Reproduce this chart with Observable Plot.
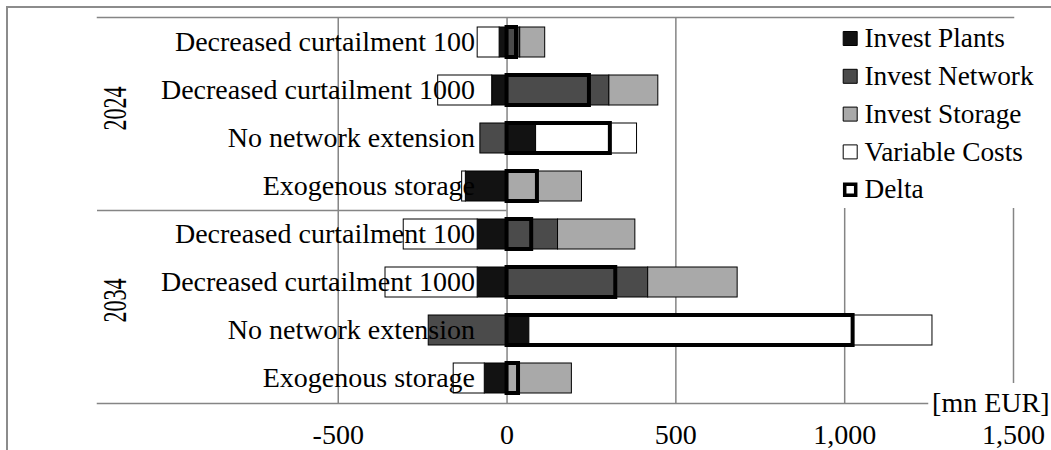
<!DOCTYPE html>
<html><head><meta charset="utf-8">
<script src="https://cdn.jsdelivr.net/npm/d3@7"></script>
<script src="https://cdn.jsdelivr.net/npm/@observablehq/plot@0.6"></script>
<style>
body{margin:0;background:#fff;}
#wrap{position:relative;width:1051px;height:450px;overflow:hidden;background:#fff;}
#chart{position:absolute;left:0;top:0;}
#border{position:absolute;left:6px;top:6px;width:1200px;height:600px;border-left:2px solid #8c8c8c;border-top:2px solid #8c8c8c;pointer-events:none;}
</style></head><body>
<div id="wrap"><div id="chart"></div><div id="border"></div></div>
<script>
// ---- data ----
const years = ["2024", "2034"];
const scenarios = ["Decreased curtailment 100", "Decreased curtailment 1000", "No network extension", "Exogenous storage"];
const seriesNames = ["Invest Plants", "Invest Network", "Invest Storage", "Variable Costs"];
// one value per row: 2024 x 4 scenarios, then 2034 x 4 scenarios  [mn EUR]
const investPlants  = [-22, -44,   86, -122,  -87,  -87,   66,  -66];
const investNetwork = [ 39, 303,  -79,    0,  151,  418, -232,    0];
const investStorage = [ 74, 145,    0,  222,  229,  265,    0,  192];
const variableCosts = [-65, -160, 299,  -11, -219, -273, 1194,  -92];
const delta         = [ 28, 244,  306,   90,   73,  322, 1025,   34];
const axisTicks = [-500, 0, 500, 1000, 1500];
const unitLabel = "[mn EUR]";
const deltaLabel = "Delta";

// ---- styling ----
const seriesColors = ["#121212", "#4b4b4b", "#a9a9a9", "#ffffff"];
const gridColor = "#858585";
const xMin = -1213, xMax = 1500;

const rows = [];
years.forEach((yr, gi) => scenarios.forEach((sc, si) => rows.push({key: yr + "|" + sc, year: yr, scenario: sc, idx: gi * scenarios.length + si})));
const seriesValues = [investPlants, investNetwork, investStorage, variableCosts];
const long = [];
seriesNames.forEach((s, k) => rows.forEach((r, i) => {
  if (seriesValues[k][i] !== 0) long.push({key: r.key, series: s, value: seriesValues[k][i]});
}));
const yearLabels = years.map(yr => ({year: yr, key: yr + "|" + scenarios[1]}));

const legendItems = seriesNames.map((s, i) => ({name: s, fill: seriesColors[i], sw: 1, r: 7.9}))
  .concat([{name: deltaLabel, fill: "#ffffff", sw: 3.5, r: 6.2}]);
const legendMarks = [];
legendItems.forEach((it, i) => {
  const dy = 21 + i * 37.8;
  legendMarks.push(Plot.dot([it], {frameAnchor: "top-left", dx: 752.7, dy, symbol: "square", r: it.r, fill: it.fill, stroke: "#000", strokeWidth: it.sw}));
  legendMarks.push(Plot.text([it], {frameAnchor: "top-left", dx: 767, dy, text: "name", textAnchor: "start", lineAnchor: "middle", fill: "#000", fontSize: 27.3}));
});

const chart = Plot.plot({
  width: 1051, height: 450,
  marginLeft: 97, marginRight: 38, marginTop: 17, marginBottom: 47,
  x: {domain: [xMin, xMax], axis: null},
  y: {domain: rows.map(d => d.key), paddingInner: 0.38, paddingOuter: 0.19, axis: null},
  color: {domain: seriesNames, range: seriesColors},
  style: {fontFamily: "'Liberation Serif', 'Times New Roman', serif", fontSize: "28px", color: "#000", background: "transparent"},
  marks: [
    Plot.frame({anchor: "top", stroke: gridColor, strokeWidth: 1.5}),
    Plot.ruleX(axisTicks.filter(t => t <= 500), {stroke: gridColor, strokeWidth: 1.5}),
    Plot.ruleX(axisTicks.filter(t => t === 1000), {stroke: gridColor, strokeWidth: 1.5, insetTop: 191}),
    Plot.ruleX(axisTicks.filter(t => t === 1500), {stroke: gridColor, strokeWidth: 1.5, insetTop: 191, insetBottom: 20}),
    Plot.ruleY([rows[scenarios.length - 1].key], {dy: 24, x1: xMin, x2: 0, stroke: gridColor, strokeWidth: 1.5}),
    Plot.frame({anchor: "bottom", insetRight: 86, stroke: gridColor, strokeWidth: 1.5}),
    Plot.barX(long, {x: "value", y: "key", fill: "series", stroke: "#000", strokeWidth: 1}),
    Plot.barX(rows, {x: d => delta[d.idx], y: "key", fill: "none", stroke: "#000", strokeWidth: 4}),
    Plot.text(rows, {x: 0, y: "key", text: "scenario", textAnchor: "end", dx: -32, fill: "#000"}),
    Plot.text(yearLabels, {x: xMin, y: "key", text: "year", dx: 18, dy: 18, rotate: -90, fontSize: 34, fill: "#000"}),
    Plot.axisX(axisTicks, {tickSize: 0, tickPadding: 21, tickFormat: d => d.toLocaleString("en-US"), fontSize: 28, label: null}),
    Plot.text([unitLabel], {frameAnchor: "bottom-right", textAnchor: "end", lineAnchor: "middle", dx: 36, fill: "#000"}),
    ...legendMarks
  ]
});
d3.select(chart).selectAll("text")
  .filter(function () { return years.includes(this.textContent); })
  .attr("textLength", 44).attr("lengthAdjust", "spacingAndGlyphs");
document.getElementById("chart").appendChild(chart);
</script>
</body></html>
